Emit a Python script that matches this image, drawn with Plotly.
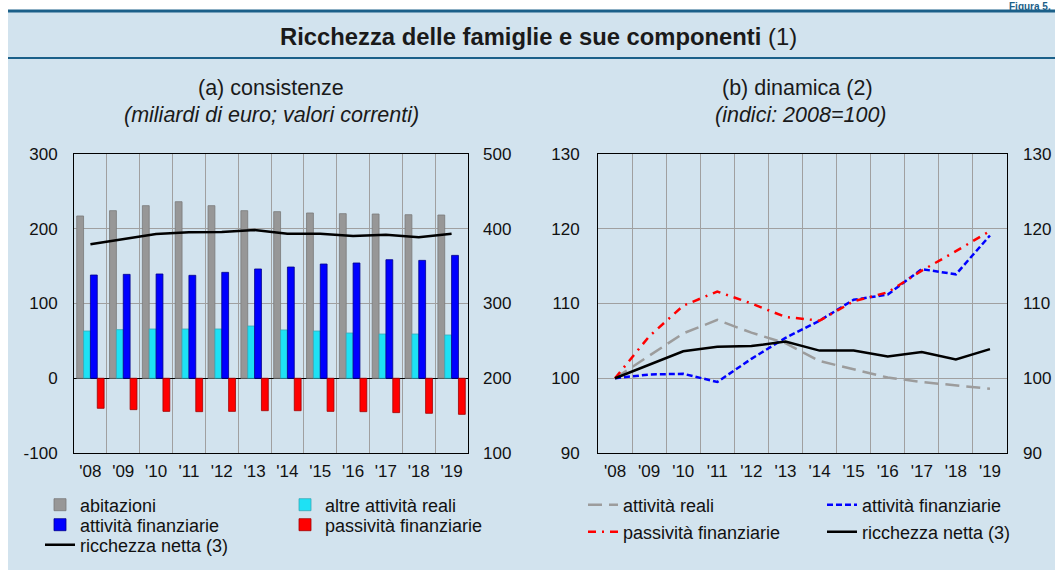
import plotly.graph_objects as go

# ---------------- data ----------------
years = ["'08", "'09", "'10", "'11", "'12", "'13", "'14", "'15", "'16", "'17", "'18", "'19"]

# (a) consistenze
abitazioni = [217.1, 224.2, 230.9, 236.2, 230.9, 224.2, 222.9, 221.1, 220.2, 219.7, 218.8, 218.4]
altre_reali = [63.2, 65.0, 65.9, 65.9, 65.9, 69.9, 64.6, 63.2, 60.5, 59.2, 59.2, 57.9]
att_fin_a = [138.1, 139.0, 139.5, 137.7, 141.7, 146.2, 148.8, 152.8, 154.2, 158.6, 157.7, 164.4]
pass_fin_a = [-40.2, -42.0, -44.3, -44.7, -44.3, -43.4, -43.4, -44.3, -44.7, -46.0, -46.9, -48.3]
ricchezza_a = [379.2, 386.3, 393.0, 395.2, 395.6, 398.3, 393.4, 393.4, 390.3, 392.0, 388.5, 393.4]

# (b) dinamica (indici 2008=100)
att_reali_b = [100.0, 103.0, 106.0, 107.8, 106.1, 104.7, 102.3, 101.2, 100.1, 99.5, 99.1, 98.6]
att_fin_b = [100.0, 100.5, 100.6, 99.5, 102.6, 105.4, 107.7, 110.5, 111.2, 114.6, 113.9, 119.1]
pass_fin_b = [100.0, 105.6, 109.7, 111.6, 110.0, 108.2, 107.7, 110.3, 111.5, 114.4, 117.0, 119.7]
ricchezza_b = [100.0, 101.8, 103.6, 104.2, 104.3, 104.9, 103.7, 103.7, 102.9, 103.5, 102.5, 103.9]

left_ticks = [-100, 0, 100, 200, 300]
left_ticktext = ["-100", "0", "100", "200", "300"]
left_ticks_r = [100, 200, 300, 400, 500]
right_ticks = [90, 100, 110, 120, 130]

# ---------------- layout helpers ----------------
W, H = 1055, 570
FONT = "Liberation Sans, Arial, Helvetica, sans-serif"
BG = "#d2e3ee"
DARK = "#1b6089"
GRID = "#a0a0a0"


def px(x):
    return x / W


def py(y):
    return 1 - y / H


fig = go.Figure()

# left panel bars
fig.add_bar(x=years, y=abitazioni, name="abitazioni", marker=dict(color="#979797", line=dict(color="#7a7a7a", width=0.8)),
            xaxis="x", yaxis="y", legend="legend")
fig.add_bar(x=years, y=altre_reali, name="altre attività reali", marker=dict(color="#1ee1f4", line=dict(color="#3aa8b8", width=0.8)),
            xaxis="x", yaxis="y", legend="legend")
fig.add_bar(x=years, y=att_fin_a, name="attività finanziarie", marker=dict(color="#0000ff", line=dict(color="#00008a", width=0.8)),
            xaxis="x", yaxis="y", legend="legend2")
fig.add_bar(x=years, y=pass_fin_a, name="passività finanziarie", marker=dict(color="#ff0000", line=dict(color="#a00000", width=0.8)),
            xaxis="x", yaxis="y", legend="legend2")
fig.add_scatter(x=years, y=ricchezza_a, name="ricchezza netta (3)", mode="lines",
                line=dict(color="black", width=2.5), xaxis="x", yaxis="y2", legend="legend3")

# right panel lines
fig.add_scatter(x=years, y=att_reali_b, name="attività reali", mode="lines",
                line=dict(color="#9c9c9c", width=2.5, dash="14px,7px"), xaxis="x2", yaxis="y3", legend="legend4")
fig.add_scatter(x=years, y=att_fin_b, name="attività finanziarie", mode="lines",
                line=dict(color="#0000ff", width=2.5, dash="6px,3px"), xaxis="x2", yaxis="y3", legend="legend4")
fig.add_scatter(x=years, y=pass_fin_b, name="passività finanziarie", mode="lines",
                line=dict(color="#ff0000", width=2.5, dash="8px,6px,2px,6px"), xaxis="x2", yaxis="y3", legend="legend5")
fig.add_scatter(x=years, y=ricchezza_b, name="ricchezza netta (3)", mode="lines",
                line=dict(color="black", width=2.5), xaxis="x2", yaxis="y3", legend="legend5")
# invisible trace so the right-hand mirror axis of panel (b) is drawn
fig.add_scatter(x=years, y=ricchezza_b, mode="lines", line=dict(width=0), opacity=0,
                showlegend=False, hoverinfo="skip", xaxis="x2", yaxis="y4")

tickfont = dict(family=FONT, size=17, color="#111111")
plot_top, plot_bot = 154, 453
ydom = [py(plot_bot), py(plot_top)]

xcommon = dict(type="category", tickson="boundaries", showgrid=True, gridcolor=GRID, gridwidth=1,
               showline=True, linecolor="black", linewidth=1, mirror=True, ticks="",
               tickfont=tickfont, ticklabelstandoff=3, fixedrange=True,
               range=[-0.5, len(years) - 0.5])
ycommon = dict(showgrid=True, gridcolor=GRID, gridwidth=1, showline=True, linecolor="black",
               linewidth=1, mirror=True, ticks="", tickfont=tickfont, ticklabelstandoff=12,
               fixedrange=True, domain=ydom)

leg_common = dict(orientation="h", font=dict(family=FONT, size=18, color="#111111"),
                  bgcolor="rgba(0,0,0,0)", borderwidth=0, xanchor="left", yanchor="middle",
                  entrywidthmode="pixels", itemwidth=30, traceorder="normal")

fig.update_layout(
    width=W, height=H,
    margin=dict(l=0, r=0, t=0, b=0, pad=0, autoexpand=False),
    paper_bgcolor="white", plot_bgcolor="white",
    barmode="group", bargap=0.165, bargroupgap=0,
    font=dict(family=FONT, color="#111111"),
    xaxis=dict(xcommon, domain=[px(74), px(468)], anchor="y"),
    yaxis=dict(ycommon, range=[-100, 300], tickvals=left_ticks, ticktext=left_ticktext,
               zeroline=True, zerolinecolor="black", zerolinewidth=1.2, anchor="x"),
    yaxis2=dict(range=[100, 500], tickvals=left_ticks_r, overlaying="y", side="right", anchor="x",
                showgrid=False, zeroline=False, ticks="", tickfont=tickfont, ticklabelstandoff=14,
                fixedrange=True),
    xaxis2=dict(xcommon, domain=[px(598), px(1007)], anchor="y3"),
    yaxis3=dict(ycommon, range=[90, 130], tickvals=right_ticks, zeroline=False, anchor="x2",
                ticklabelstandoff=14),
    yaxis4=dict(range=[90, 130], tickvals=right_ticks, overlaying="y3", side="right", anchor="x2",
                showgrid=False, zeroline=False, ticks="", tickfont=tickfont, ticklabelstandoff=15,
                fixedrange=True),
    legend=dict(leg_common, x=px(40), y=py(505), entrywidth=200),
    legend2=dict(leg_common, x=px(40), y=py(525), entrywidth=200),
    legend3=dict(leg_common, x=px(40), y=py(545), entrywidth=200),
    legend4=dict(leg_common, x=px(583), y=py(505), entrywidth=194),
    legend5=dict(leg_common, x=px(583), y=py(532), entrywidth=194),
    showlegend=True,
)

# background panel and rules
fig.add_shape(type="rect", xref="paper", yref="paper", x0=px(8), x1=1, y0=0, y1=py(11),
              fillcolor=BG, line=dict(width=0), layer="below")
fig.add_shape(type="line", xref="paper", yref="paper", x0=px(8), x1=1, y0=py(11), y1=py(11),
              line=dict(color=DARK, width=3), layer="below")
fig.add_shape(type="line", xref="paper", yref="paper", x0=px(8), x1=1, y0=py(58), y1=py(58),
              line=dict(color=DARK, width=2), layer="below")

ann = [
    dict(text="Figura 5.", x=px(1052), y=1, xanchor="right", yanchor="top", borderpad=0,
         font=dict(family=FONT, size=10, color=DARK, weight="bold")),
    dict(text="<b>Ricchezza delle famiglie e sue componenti</b> (1)", x=px(538), y=py(37),
         xanchor="center", yanchor="middle", font=dict(family=FONT, size=23.8, color="#1a1a1a")),
    dict(text="(a) consistenze", x=px(271), y=py(88), xanchor="center", yanchor="middle",
         font=dict(family=FONT, size=21.5, color="#1a1a1a")),
    dict(text="<i>(miliardi di euro; valori correnti)</i>", x=px(271), y=py(115), xanchor="center",
         yanchor="middle", font=dict(family=FONT, size=21.5, color="#1a1a1a")),
    dict(text="(b) dinamica (2)", x=px(797), y=py(88), xanchor="center", yanchor="middle",
         font=dict(family=FONT, size=21.5, color="#1a1a1a")),
    dict(text="<i>(indici: 2008=100)</i>", x=px(801), y=py(115), xanchor="center", yanchor="middle",
         font=dict(family=FONT, size=21.5, color="#1a1a1a")),
]
for a in ann:
    fig.add_annotation(xref="paper", yref="paper", showarrow=False, **a)

fig.write_html("out.html", config={"displayModeBar": False},
               post_script="document.body.style.margin='0px';")
